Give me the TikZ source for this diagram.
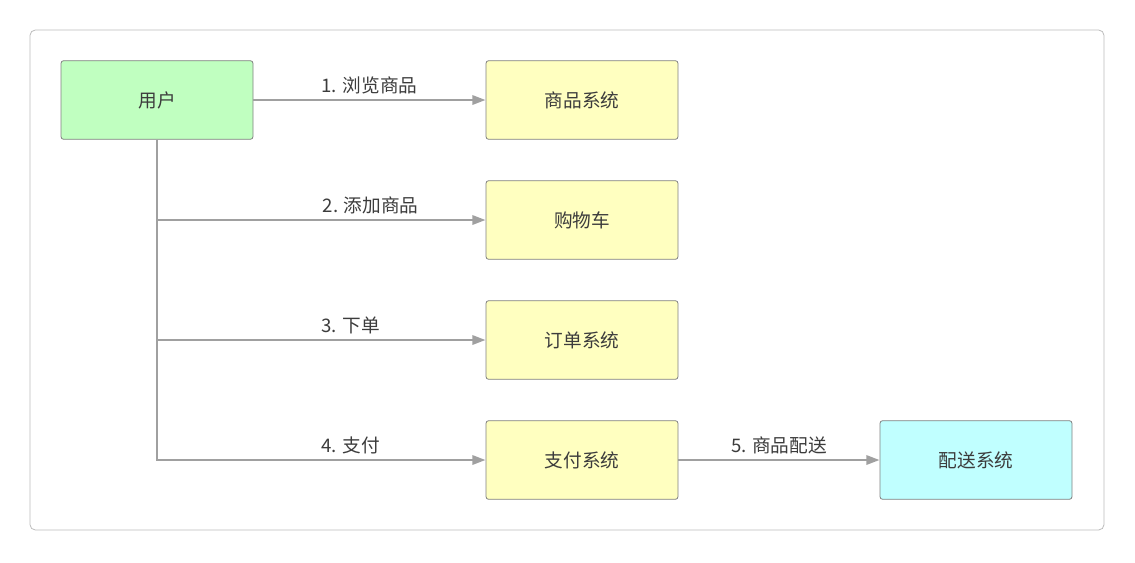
\documentclass[tikz,border=0pt]{standalone}
\usepackage{fontspec}
\setmainfont{Noto Sans CJK SC}
\usetikzlibrary{arrows.meta, positioning}
\definecolor{usercolor}{RGB}{192, 255, 192}
\definecolor{syscolor}{RGB}{255, 255, 192}
\definecolor{shipcolor}{RGB}{192, 255, 255}
\definecolor{edgecolor}{RGB}{160, 160, 160}
\definecolor{textcolor}{RGB}{60, 60, 60}

\begin{document}
\begin{tikzpicture}[
    x=0.75pt, y=-0.75pt,
    % Box style
    box/.style={
        rectangle,
        rounded corners=2pt,
        minimum width=144pt,
        minimum height=59pt,
        draw=edgecolor!80!black,
        line width=0.6pt,
        font=\fontsize{14}{16}\selectfont,
        text=textcolor
    },
    % Arrow style
    arrow/.style={
        -{Triangle[length=10pt, width=7pt]},
        line width=1.8pt,
        color=edgecolor
    },
    % Label style
    label/.style={
        font=\fontsize{14}{16}\selectfont,
        text=textcolor,
        above
    }
]

\useasboundingbox (0,0) rectangle (1135,562);
\draw[edgecolor!70, rounded corners=4pt, line width=0.6pt] (30,30) rectangle (1104,530);

% ===== BOXES =====
\node[box, fill=usercolor] (user) at (157,100) {用户};
\node[box, fill=syscolor] (goods) at (582,100) {商品系统};
\node[box, fill=syscolor] (cart) at (582,220) {购物车};
\node[box, fill=syscolor] (order) at (582,340) {订单系统};
\node[box, fill=syscolor] (pay) at (582,460) {支付系统};
\node[box, fill=shipcolor] (ship) at (976,460) {配送系统};

% ===== ARROWS =====
\draw[arrow] (user.east) -- node[label] {1. 浏览商品} (goods.west);
\draw[arrow] (user.south) |- node[label, pos=0.75, xshift=37pt] {2. 添加商品} (cart.west);
\draw[arrow] (user.south) |- node[label, pos=0.75, xshift=22pt] {3. 下单} (order.west);
\draw[arrow] (user.south) |- node[label, pos=0.75, xshift=22pt] {4. 支付} (pay.west);
\draw[arrow] (pay.east) -- node[label] {5. 商品配送} (ship.west);

\end{tikzpicture}
\end{document}
